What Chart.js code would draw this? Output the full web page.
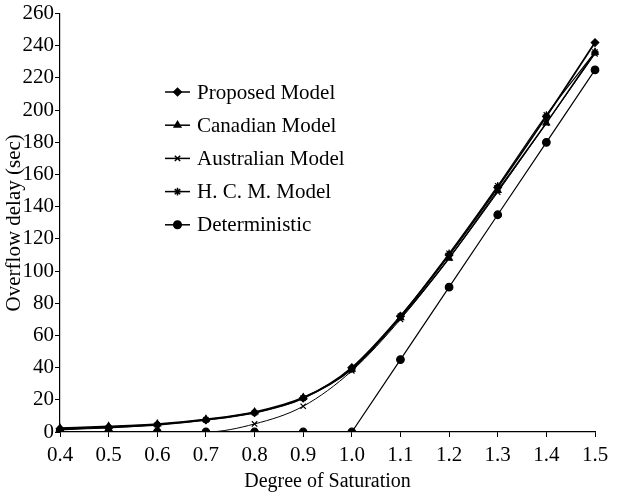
<!DOCTYPE html>
<html>
<head>
<meta charset="utf-8">
<script src="https://cdn.jsdelivr.net/npm/chart.js@4.4.1/dist/chart.umd.min.js"></script>
<style>
  html, body { margin: 0; padding: 0; background: #fff; }
  #wrap { width: 629px; height: 498px; position: relative; }
</style>
</head>
<body>
<div id="wrap"><canvas id="chart"></canvas></div>
<script>
// values
const saturation = ['0.4', '0.5', '0.6', '0.7', '0.8', '0.9', '1.0', '1.1', '1.2', '1.3', '1.4', '1.5'];
const proposed = [2, 3, 4.5, 7.5, 12, 21, 40, 72, 110, 152, 196, 242];
const canadian = [2.5, 3.5, 5, 8, 12.5, 21.5, 39, 71, 108, 150, 192, 236];
const australian = [0, 0, 0, 0, 5, 16, 38, 70, 108, 149, 192, 235];
const hcm = [1.5, 2.5, 4.5, 7.5, 12, 21, 39, 72, 111, 153, 197, 236];
const deterministic = [0, 0, 0, 0, 0, 0, 0, 45, 90, 135, 180, 225];
const yTicks = [0, 20, 40, 60, 80, 100, 120, 140, 160, 180, 200, 220, 240, 260];

const serif = '"Liberation Serif", "DejaVu Serif", serif';

function series(label, data, style, width, smooth) {
    return {
        label: label,
        data: data,
        borderColor: '#000',
        backgroundColor: '#000',
        borderWidth: width,
        pointStyle: style,
        pointRadius: 3.8,
        pointBorderWidth: 1.2,
        cubicInterpolationMode: smooth ? 'monotone' : 'default',
        tension: smooth ? 0.4 : 0,
        fill: false
    };
}

// legend drawn inside the plot, one row per series
const insideLegend = {
    id: 'insideLegend',
    afterDraw(chart) {
        const ctx = chart.ctx;
        const x0 = 165, y0 = 92, gap = 33.2;
        ctx.save();
        chart.data.datasets.forEach((ds, i) => {
            const y = y0 + i * gap;
            ctx.strokeStyle = '#000';
            ctx.lineWidth = 1.5;
            ctx.beginPath();
            ctx.moveTo(x0, y);
            ctx.lineTo(x0 + 25, y);
            ctx.stroke();
            ctx.fillStyle = '#000';
            Chart.helpers.drawPoint(ctx, {
                pointStyle: ds.pointStyle,
                radius: ds.pointRadius,
                borderWidth: 1.2
            }, x0 + 12.5, y);
            ctx.font = '21px ' + serif;
            ctx.textBaseline = 'middle';
            ctx.textAlign = 'left';
            ctx.fillText(ds.label, x0 + 32, y + 1);
        });
        ctx.restore();
    }
};

const ctx = document.getElementById('chart').getContext('2d');
new Chart(ctx, {
    type: 'line',
    data: {
        labels: saturation,
        datasets: [
            series('Proposed Model', proposed, 'rectRot', 1.8, true),
            series('Canadian Model', canadian, 'triangle', 1.5, true),
            series('Australian Model', australian, 'crossRot', 1, true),
            series('H. C. M. Model', hcm, 'star', 1.2, true),
            series('Deterministic', deterministic, 'circle', 1.2, false)
        ]
    },
    options: {
        responsive: true,
        maintainAspectRatio: false,
        animation: false,
        layout: { padding: { top: 13, right: 34, left: 0, bottom: 0 } },
        plugins: {
            legend: { display: false },
            tooltip: { enabled: false }
        },
        scales: {
            x: {
                offset: false,
                afterFit(axis) { axis.height = 66; },
                grid: { drawOnChartArea: false, drawTicks: true, tickLength: 5, color: '#000' },
                border: { color: '#000', width: 1.2 },
                ticks: { color: '#000', font: { family: serif, size: 21 }, padding: 6, maxRotation: 0 },
                title: { display: true, text: 'Degree of Saturation', color: '#000', font: { family: serif, size: 20 }, padding: { top: 0, bottom: 4 } }
            },
            y: {
                min: 0,
                max: 260,
                afterFit(axis) { axis.width = 60; },
                afterBuildTicks(axis) { axis.ticks = yTicks.map(v => ({ value: v })); },
                grid: { drawOnChartArea: false, drawTicks: true, tickLength: 5, color: '#000' },
                border: { color: '#000', width: 1.2 },
                ticks: { color: '#000', font: { family: serif, size: 21 }, padding: 1 },
                title: { display: true, text: 'Overflow delay (sec)', color: '#000', font: { family: serif, size: 21 }, padding: { top: 2, bottom: 0 } }
            }
        }
    },
    plugins: [insideLegend]
});
</script>
</body>
</html>
